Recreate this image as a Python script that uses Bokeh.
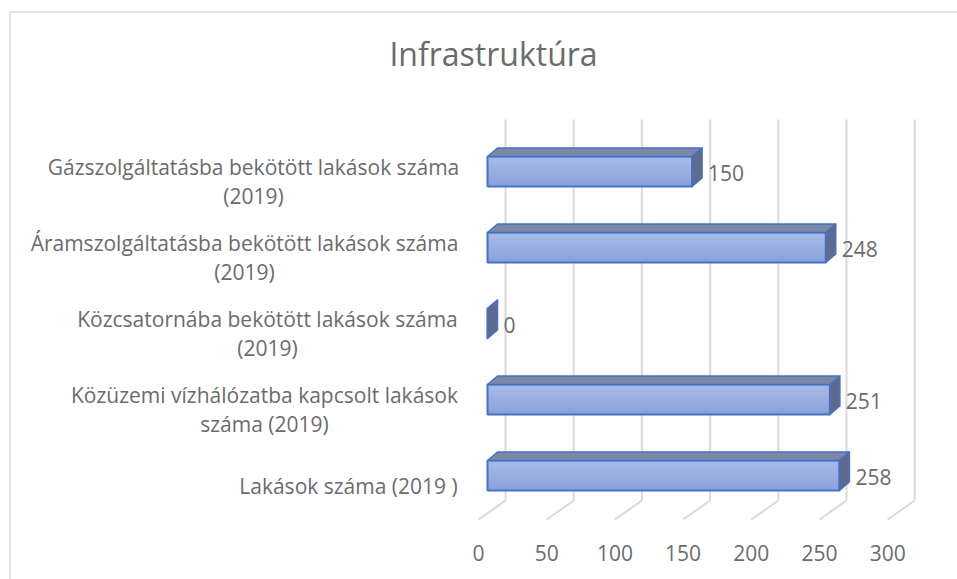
from bokeh.plotting import figure
from bokeh.models import Range1d
from bokeh.core.properties import value
from bokeh.embed import file_html
from bokeh.resources import INLINE

# ---------------- data ----------------
title_text = "Infrastruktúra"
categories = [
    "Lakások száma (2019 )",
    "Közüzemi vízhálózatba kapcsolt lakások\nszáma (2019)",
    "Közcsatornába bekötött lakások száma\n(2019)",
    "Áramszolgáltatásba bekötött lakások száma\n(2019)",
    "Gázszolgáltatásba bekötött lakások száma\n(2019)",
]
values = [258, 251, 0, 248, 150]
ticks = [0, 50, 100, 150, 200, 250, 300]
tick_labels = ["0", "50", "100", "150", "200", "250", "300"]

# ---------------- layout / style ----------------
W, H = 957, 579
X0, SX = 487.0, 1.364      # pixel of value 0 on the bar front face, px per unit
Y0, SY = 475.0, 76.0       # pixel of first category centre, px per category
FONT = "Open Sans"
TXT = "#6b6b6b"
GRID = "#d9d9d9"
EDGE = "#4472c4"
TOP_C = "#7c87a8"
SIDE_C = "#5e6a8f"
GRAD_TOP = (0xa9, 0xba, 0xe5)
GRAD_BOT = (0x8a, 0xa1, 0xdb)
label_center_px = [348, 264, 267, 244, 253]   # centre of each label block (px)


def dx(px):
    return px / SX


def dy(px):
    return px / SY


def xp(px):
    return (px - X0) / SX


def yp(py):
    return (Y0 - py) / SY


p = figure(width=W, height=H, output_backend="svg", toolbar_location=None,
           x_range=Range1d(xp(0), xp(W)), y_range=Range1d(yp(H), yp(0)),
           min_border=0, min_border_left=0, min_border_right=0,
           min_border_top=0, min_border_bottom=0)
p.axis.visible = False
p.grid.visible = False
p.outline_line_color = None
p.background_fill_color = "white"
p.border_fill_color = "white"

# chart border (left and top edges visible)
p.line([xp(9.5), xp(9.5), xp(W + 20)], [yp(H + 20), yp(11.5), yp(11.5)],
       line_color=GRID, line_width=1.5)

# title
p.text(x=[xp(493)], y=[yp(53)], text=[title_text], text_font=value(FONT),
       text_font_size="32px", text_color=TXT, text_align="center",
       text_baseline="middle")

# back wall gridlines and floor diagonals
back_dx = dx(18)
front_dx = dx(-9)
wall_bot = yp(500)
wall_top = yp(119)
floor_front = yp(519)
p.segment(x0=[t + back_dx for t in ticks], y0=[wall_bot] * len(ticks),
          x1=[t + back_dx for t in ticks], y1=[wall_top] * len(ticks),
          line_color=GRID, line_width=2)
p.segment(x0=[t + back_dx for t in ticks], y0=[wall_bot] * len(ticks),
          x1=[t + front_dx for t in ticks], y1=[floor_front] * len(ticks),
          line_color=GRID, line_width=2)

# tick labels
p.text(x=[t + front_dx for t in ticks], y=[yp(552)] * len(ticks), text=tick_labels,
       text_font=value(FONT), text_font_size="21px", text_color=TXT,
       text_align="center", text_baseline="middle")

# bars (pseudo 3D)
hh = dy(15)
ddx, ddy = dx(10), dy(8.5)
n = 14
for k, v in enumerate(values):
    # gradient front face
    step = 2 * hh / n
    for j in range(n):
        f = j / (n - 1)
        c = tuple(int(round(a + (b - a) * f)) for a, b in zip(GRAD_TOP, GRAD_BOT))
        col = "#%02x%02x%02x" % c
        top = k + hh - j * step
        bot = max(top - step * 1.6, k - hh)
        p.quad(left=[0], right=[v], top=[top], bottom=[bot],
               fill_color=col, line_color=None)
    p.quad(left=[0], right=[v], top=[k + hh], bottom=[k - hh],
           fill_color=None, line_color=EDGE, line_width=2)
    # top face
    p.patch(x=[0, v, v + ddx, ddx], y=[k + hh, k + hh, k + hh + ddy, k + hh + ddy],
            fill_color=TOP_C, line_color=EDGE, line_width=1.5, line_join="round")
    # side face
    p.patch(x=[v, v, v + ddx, v + ddx], y=[k - hh, k + hh, k + hh + ddy, k - hh + ddy],
            fill_color=SIDE_C, line_color=EDGE, line_width=1.5, line_join="round")

# value labels
p.text(x=[v + ddx + dx(6) for v in values], y=[k - dy(1) for k in range(len(values))],
       text=[str(v) for v in values], text_font=value(FONT), text_font_size="21px",
       text_color=TXT, text_align="left", text_baseline="middle")

# category labels
p.text(x=[xp(c) for c in label_center_px], y=[k - dy(10) for k in range(len(categories))],
       text=categories, text_font=value(FONT), text_font_size="21px",
       text_color=TXT, text_align="center", text_baseline="middle",
       text_line_height=1.05)

open("out.html", "w").write(file_html(p, INLINE))
